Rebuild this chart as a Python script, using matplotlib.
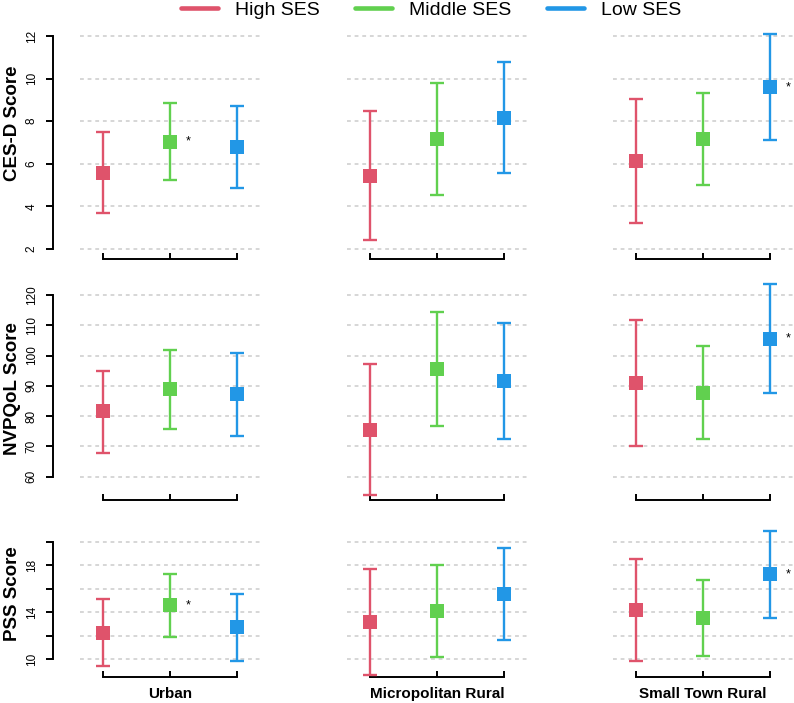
import matplotlib
matplotlib.use("Agg")
import matplotlib.pyplot as plt
from matplotlib.lines import Line2D

plt.rcParams['font.family'] = ['Liberation Sans', 'DejaVu Sans']

regions = ["Urban", "Micropolitan Rural", "Small Town Rural"]
ses = ["High SES", "Middle SES", "Low SES"]
colors = ["#DF536B", "#61D04F", "#2297E6"]

# mean, lower, upper  (rows = region, cols = High / Middle / Low SES)
cesd_mean = [[5.58, 7.04, 6.80], [5.44, 7.15, 8.17], [6.13, 7.15, 9.59]]
cesd_lo = [[3.68, 5.22, 4.88], [2.44, 4.52, 5.55], [3.24, 4.99, 7.10]]
cesd_hi = [[7.50, 8.85, 8.70], [8.46, 9.79, 10.79], [9.04, 9.31, 12.11]]

qol_mean = [[81.6, 88.8, 87.3], [75.5, 95.5, 91.5], [91.0, 87.8, 105.5]]
qol_lo = [[67.8, 75.7, 73.5], [53.9, 76.6, 72.3], [70.1, 72.3, 87.7]]
qol_hi = [[95.0, 101.8, 101.0], [97.1, 114.5, 110.6], [111.6, 103.2, 123.5]]

pss_mean = [[12.26, 14.62, 12.77], [13.15, 14.14, 15.56], [14.17, 13.54, 17.23]]
pss_lo = [[9.40, 11.90, 9.86], [8.66, 10.17, 11.64], [9.86, 10.28, 13.49]]
pss_hi = [[15.10, 17.29, 15.56], [17.66, 18.05, 19.47], [18.54, 16.75, 20.94]]

# significance stars: (measure row, region, ses)
stars = [(0, 0, 1), (0, 2, 2), (1, 2, 2), (2, 0, 1), (2, 2, 2)]

measures = [
    ("CES-D Score", cesd_mean, cesd_lo, cesd_hi, [2, 4, 6, 8, 10, 12], ["2", "4", "6", "8", "10", "12"]),
    ("NVPQoL Score", qol_mean, qol_lo, qol_hi, [60, 70, 80, 90, 100, 110, 120],
     ["60", "70", "80", "90", "100", "110", "120"]),
    ("PSS Score", pss_mean, pss_lo, pss_hi, [10, 12, 14, 16, 18, 20], ["10", "", "14", "", "18", ""]),
]

W, H = 794, 703
fig = plt.figure(figsize=(W / 100, H / 100), dpi=100)

def px(x0, y0, x1, y1):
    return [x0 / W, 1 - y1 / H, (x1 - x0) / W, (y1 - y0) / H]

col_x = [80, 347, 613]
col_w = 180
row_y = [(30, 259), (285, 500), (530, 677)]
row_lim = [(1.53, 12.28), (52.3, 123.3), (8.49, 21.0)]
label_y = [123, 389, 594]

for r, (name, mean, lo, hi, ticks, ticklabels) in enumerate(measures):
    for c in range(3):
        ax = fig.add_axes(px(col_x[c], row_y[r][0], col_x[c] + col_w, row_y[r][1]))
        ax.set_xlim(0.65, 3.35)
        ax.set_ylim(*row_lim[r])
        for s in range(3):
            m = mean[c][s]
            eb = ax.errorbar([s + 1], [m], yerr=[[m - lo[c][s]], [hi[c][s] - m]], fmt='none',
                             ecolor=colors[s], capsize=5, elinewidth=1.7, capthick=1.7, zorder=3)
            for art in eb.get_children():
                art.set_clip_on(False)
            ax.plot([s + 1], [m], marker='s', color=colors[s], ms=10, mew=0, zorder=4, clip_on=False)
            if (r, c, s) in stars:
                ax.text(s + 1.28, m, "*", fontsize=9, ha='center', va='center')
        ax.set_yticks(ticks)
        ax.yaxis.grid(True, color="#CCCCCC", lw=1.1, linestyle=(0, (2.5, 2.5)))
        ax.set_axisbelow(True)
        for sp in ["top", "right"]:
            ax.spines[sp].set_visible(False)
        ax.spines["bottom"].set_bounds(1, 3)
        ax.spines["bottom"].set_linewidth(1.4)
        ax.set_xticks([1, 2, 3])
        ax.tick_params(axis='x', direction='in', length=4, width=1.4, pad=7)
        if r == 2:
            ax.set_xticklabels(["", regions[c], ""], fontsize=11, fontweight='bold')
        else:
            ax.set_xticklabels([])
        if c == 0:
            ax.spines["left"].set_position(("outward", 19.4))
            ax.spines["left"].set_bounds(ticks[0], ticks[-1])
            ax.spines["left"].set_linewidth(1.4)
            ax.set_yticklabels(ticklabels, rotation=90, va='center', fontsize=8.5)
            ax.tick_params(axis='y', length=5, width=1.4, pad=6)
        else:
            ax.spines["left"].set_visible(False)
            ax.tick_params(axis='y', left=False, labelleft=False)
    fig.text(13 / W, 1 - label_y[r] / H, name, rotation=90, fontsize=13.5, fontweight='bold',
             ha='center', va='center')

handles = [Line2D([], [], color=colors[i], lw=3.3, solid_capstyle='round') for i in range(3)]
fig.legend(handles, ses, loc='center', bbox_to_anchor=(431 / W, 1 - 10 / H), ncol=3, frameon=False,
           fontsize=14, handlelength=1.9, handletextpad=0.9, columnspacing=1.8, borderpad=0)

fig.savefig("out.png", dpi=100)
